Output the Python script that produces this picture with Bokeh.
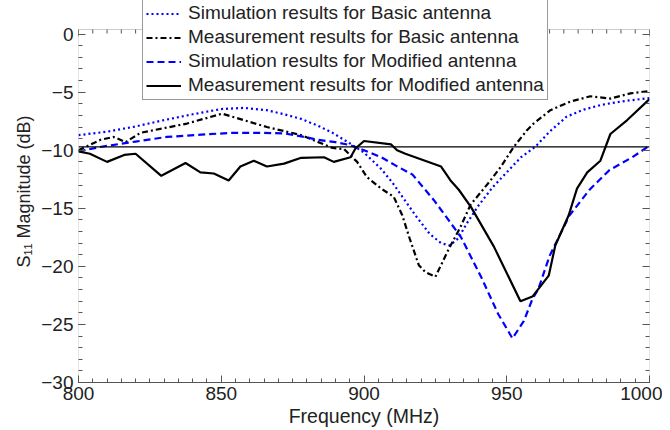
from bokeh.plotting import figure
from bokeh.models import (Span, Legend, LegendItem, LinearAxis, Range1d, FixedTicker,
                          SingleIntervalTicker, CustomJSTickFormatter, BoxAnnotation)
from bokeh.embed import file_html
from bokeh.resources import INLINE

# ---- data ----
sim_basic_f = [800, 810, 820, 830, 840, 850, 858, 866, 872, 878, 884, 889, 895, 900,
               906, 910, 914, 918, 923, 927, 930, 933, 936, 940, 945, 950, 955, 960,
               965, 971, 977, 983, 990, 1000]
sim_basic_db = [-8.7, -8.4, -7.95, -7.4, -6.9, -6.45, -6.35, -6.55, -6.9, -7.3, -7.9, -8.5,
                -9.4, -10.2, -11.6, -12.8, -14.2, -15.6, -17.2, -18.0, -18.2, -17.6, -16.3,
                -14.8, -13.2, -11.9, -10.6, -9.7, -8.4, -7.1, -6.5, -6.1, -5.8, -5.5]

meas_basic_f = [800, 807.7, 812.3, 816.5, 821.7, 838, 850.3, 866, 878, 884, 889, 893,
                897.6, 901, 906, 910.4, 913.4, 916, 919.2, 921.5, 925, 929.7, 933.8,
                937.3, 944.3, 948, 952.5, 957, 959.4, 965.3, 972.3, 979.3, 986.3, 993.3, 1000]
meas_basic_db = [-10.0, -9.1, -8.85, -9.3, -8.5, -7.7, -6.85, -8.0, -8.7, -9.3, -9.8, -9.9,
                 -11.0, -12.3, -13.3, -14.0, -15.6, -17.6, -19.9, -20.5, -20.9, -18.5, -16.6,
                 -14.7, -12.6, -11.4, -9.7, -8.3, -7.7, -6.55, -5.8, -5.35, -5.55, -5.1, -4.9]

sim_mod_f = [800, 808, 820, 831, 843, 854, 865, 872, 878, 884, 890, 895, 900, 906, 911,
             917, 924.5, 929, 934, 941, 947, 952, 956, 959, 961, 965, 972, 979, 986, 994, 1000]
sim_mod_db = [-10.1, -9.7, -9.25, -8.85, -8.65, -8.5, -8.5, -8.55, -8.8, -9.1, -9.3, -9.55,
              -10.0, -10.6, -11.3, -12.1, -14.3, -15.8, -17.5, -20.9, -24.1, -26.2, -24.7,
              -22.8, -22.0, -19.1, -15.6, -13.4, -11.7, -10.6, -9.6]

meas_mod_f = [800, 804, 810, 816, 820, 829, 837.5, 842.7, 847.4, 852.6, 856.7, 861.4, 866,
              872, 878, 886, 889.4, 895.3, 897, 900, 909.5, 911.6, 914.5, 927, 930.3, 933.2,
              937.5, 945.5, 954.8, 959, 964.7, 967, 971.7, 974.6, 978.2, 982.8, 986.3, 992.2, 1000]
meas_mod_db = [-10.1, -10.3, -11.0, -10.4, -10.3, -12.2, -11.1, -11.9, -12.0, -12.6, -11.4,
               -10.9, -11.4, -11.15, -10.65, -10.6, -11.0, -10.6, -9.85, -9.2, -9.5, -10.0,
               -10.3, -11.4, -12.6, -13.4, -14.9, -18.3, -23.0, -22.6, -20.8, -18.2, -15.6,
               -13.3, -11.9, -10.9, -8.6, -7.4, -5.6]

ref_level = -9.7

labels = ["Simulation results for Basic antenna",
          "Measurement results for Basic antenna",
          "Simulation results for Modified antenna",
          "Measurement results for Modified antenna"]

x_major = list(range(800, 1001, 50))
x_minor = list(range(800, 1001, 5))
y_major = list(range(-30, 1, 5))
y_minor = list(range(-30, 1, 1))

FONT = "Liberation Sans"
TXT = "#222222"
FRAME = "#555555"

# axes box spans -30..0.4 dB; the drawing area extends above it so the legend can overhang
Y_TOP_BOX = 0.4
PX_PER_DB = 353 / 30.4
Y_TOP_CANVAS = Y_TOP_BOX + 29 / PX_PER_DB

p = figure(frame_width=571, frame_height=382, output_backend="svg", toolbar_location=None,
           x_range=Range1d(800, 1000), y_range=Range1d(-30, Y_TOP_CANVAS),
           min_border_left=78, min_border_right=13, min_border_top=0,
           min_border_bottom=40)
p.grid.visible = False
p.outline_line_color = None
p.background_fill_color = "white"
p.border_fill_color = "white"

xt = SingleIntervalTicker(interval=50, num_minor_ticks=10)
yt = FixedTicker(ticks=y_major, minor_ticks=y_minor)
p.xaxis.ticker = xt
p.yaxis.ticker = yt

for ax in [p.xaxis[0], p.yaxis[0]]:
    ax.major_tick_in = 7
    ax.major_tick_out = 0
    ax.minor_tick_in = 4
    ax.minor_tick_out = 0
    ax.axis_line_color = FRAME
    ax.major_tick_line_color = FRAME
    ax.minor_tick_line_color = FRAME
    ax.major_label_text_font = FONT
    ax.major_label_text_font_size = "19px"
    ax.major_label_text_color = TXT
    ax.axis_label_text_font = FONT
    ax.axis_label_text_font_style = "normal"
    ax.axis_label_text_color = TXT
p.yaxis.axis_line_color = None

p.xaxis.axis_label = "Frequency (MHz)"
p.xaxis.axis_label_text_font_size = "19.5px"
p.yaxis.axis_label = "S\u2081\u2081 Magnitude (dB)"
p.yaxis.axis_label_text_font_size = "18px"
p.xaxis.major_label_standoff = 4
p.xaxis.axis_label_standoff = 2
p.yaxis.major_label_standoff = 5
p.yaxis.axis_label_standoff = 4

blank = CustomJSTickFormatter(code="return ''")
rax = LinearAxis(ticker=yt, formatter=blank, major_label_standoff=0,
                 major_tick_in=7, major_tick_out=0, minor_tick_in=4, minor_tick_out=0,
                 axis_line_color=None, major_tick_line_color=FRAME,
                 minor_tick_line_color=FRAME)
p.add_layout(rax, "right")

# axes box
p.add_layout(BoxAnnotation(left=800, right=1000, bottom=-30, top=Y_TOP_BOX,
                           fill_alpha=0, fill_color=None, line_color=FRAME, line_width=1))

# inward ticks along the top edge of the box
p.segment(x0=x_major, x1=x_major, y0=[Y_TOP_BOX] * len(x_major),
          y1=[Y_TOP_BOX - 7 / PX_PER_DB] * len(x_major), line_color=FRAME, line_width=1)
p.segment(x0=x_minor, x1=x_minor, y0=[Y_TOP_BOX] * len(x_minor),
          y1=[Y_TOP_BOX - 4 / PX_PER_DB] * len(x_minor), line_color=FRAME, line_width=1)

p.add_layout(Span(location=ref_level, dimension="width", line_color="black", line_width=1.2))

r1 = p.line(sim_basic_f, sim_basic_db, line_color="#0000ff", line_width=2.2, line_dash="2 3")
r2 = p.line(meas_basic_f, meas_basic_db, line_color="black", line_width=2.2, line_dash="6 3 2 3")
r3 = p.line(sim_mod_f, sim_mod_db, line_color="#0000ff", line_width=2.2, line_dash="7 4")
r4 = p.line(meas_mod_f, meas_mod_db, line_color="black", line_width=2.2)

legend = Legend(items=[LegendItem(label=l, renderers=[r]) for l, r in zip(labels, [r1, r2, r3, r4])],
                location=(64, 282), glyph_width=35, glyph_height=21, label_height=21,
                label_standoff=7, spacing=2, padding=3, margin=0,
                label_text_font=FONT, label_text_font_size="19px", label_text_color=TXT,
                border_line_color="#333333", border_line_width=1,
                background_fill_color="white", background_fill_alpha=1)
p.add_layout(legend)

open("out.html", "w").write(file_html(p, INLINE))
